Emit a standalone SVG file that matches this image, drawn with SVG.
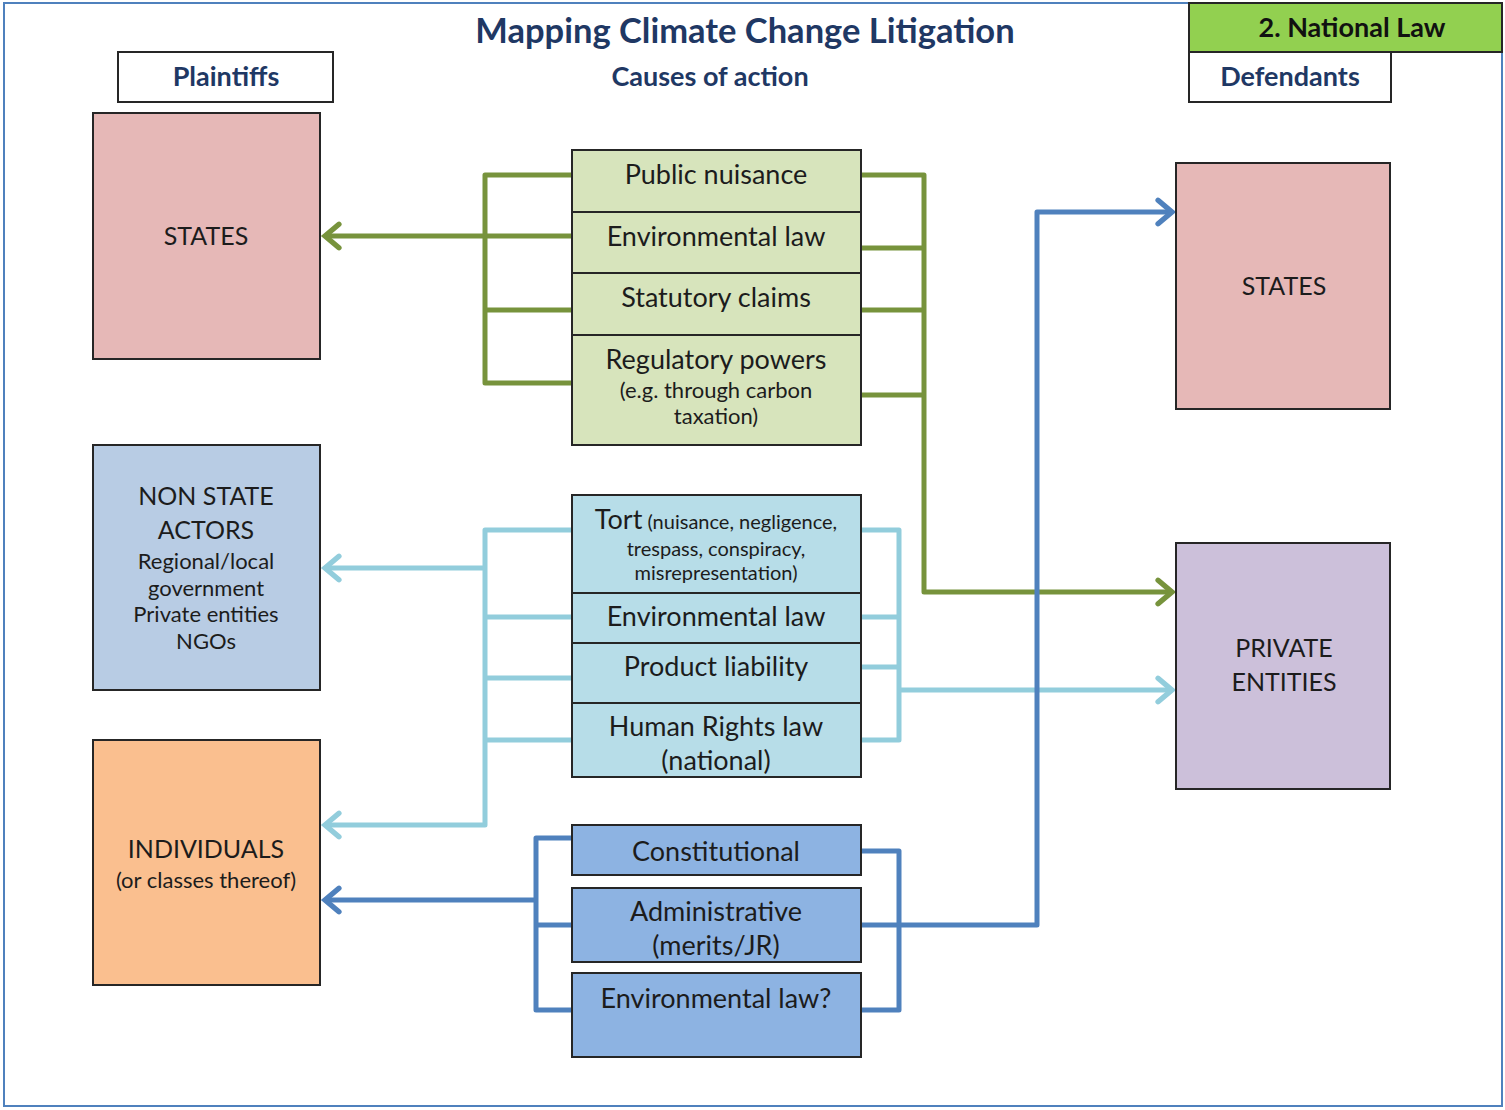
<svg xmlns="http://www.w3.org/2000/svg" width="1505" height="1110" viewBox="0 0 1505 1110">
<style>
text{font-family:Lato,"Open Sans","Liberation Sans",sans-serif;text-anchor:middle;fill:#1c1c1c}
.hdr{font-weight:bold;fill:#1f3864;font-size:27px}
.node{stroke:#262626;stroke-width:2}
.t{font-size:27px}
.c{font-size:25px}
.s{font-size:22px}
.xs{font-size:20px}
.g{stroke:#77933c;stroke-width:5;fill:none;stroke-linejoin:round}
.lb{stroke:#92cddc;stroke-width:5;fill:none;stroke-linejoin:round}
.b{stroke:#4f81bd;stroke-width:5;fill:none;stroke-linejoin:round}
</style>
<defs>
<marker id="ag" markerUnits="userSpaceOnUse" markerWidth="30" markerHeight="30" viewBox="-16 -14 20 28" refX="0" refY="0" orient="auto"><path d="M-13,-11 L0,0 L-13,11" fill="none" stroke="#77933c" stroke-width="5" stroke-linecap="round"/></marker>
<marker id="alb" markerUnits="userSpaceOnUse" markerWidth="30" markerHeight="30" viewBox="-16 -14 20 28" refX="0" refY="0" orient="auto"><path d="M-13,-11 L0,0 L-13,11" fill="none" stroke="#92cddc" stroke-width="5" stroke-linecap="round"/></marker>
<marker id="ab" markerUnits="userSpaceOnUse" markerWidth="30" markerHeight="30" viewBox="-16 -14 20 28" refX="0" refY="0" orient="auto"><path d="M-13,-11 L0,0 L-13,11" fill="none" stroke="#4f81bd" stroke-width="5" stroke-linecap="round"/></marker>
</defs>
<rect x="0" y="0" width="1505" height="1110" fill="#fff"/>
<rect x="4" y="3" width="1498" height="1103" fill="none" stroke="#4f81bd" stroke-width="2"/>

<g id="title"><text x="745" y="43" style="font-weight:bold;fill:#1f3864;font-size:34.5px">Mapping Climate Change Litigation</text></g>
<g id="causes"><text class="hdr" x="710" y="86">Causes of action</text></g>
<g id="plaintiffs"><rect x="118" y="52" width="215" height="50" fill="#fff" class="node"/><text class="hdr" x="226" y="86">Plaintiffs</text></g>
<g id="national-law"><rect x="1189" y="3" width="313" height="49" fill="#92d050" class="node"/><text x="1352" y="37" style="font-weight:bold;font-size:27px;fill:#111">2. National Law</text></g>
<g id="defendants"><rect x="1189" y="52" width="202" height="50" fill="#fff" class="node"/><text class="hdr" x="1290" y="86">Defendants</text></g>

<g id="connectors">
<path class="g" d="M572,175 H485 V383 H572 M572,310 H485"/>
<path class="g" d="M572,236 H325" marker-end="url(#ag)"/>
<path class="g" d="M861,175 H924 V592 H1172" marker-end="url(#ag)"/>
<path class="g" d="M861,248 H924 M861,310 H924 M861,395 H924"/>
<path class="lb" d="M572,530 H485 V825 H325" marker-end="url(#alb)"/>
<path class="lb" d="M572,617 H485 M572,678 H485 M572,740 H485"/>
<path class="lb" d="M485,568 H325" marker-end="url(#alb)"/>
<path class="lb" d="M861,530 H899 V740 H861 M861,617 H899 M861,667 H899"/>
<path class="lb" d="M899,690 H1172" marker-end="url(#alb)"/>
<path class="b" d="M572,838 H536 V1010 H572 M572,925 H536"/>
<path class="b" d="M536,900 H325" marker-end="url(#ab)"/>
<path class="b" d="M861,851 H899 V1010 H861"/>
<path class="b" d="M861,925 H1037 V212 H1172" marker-end="url(#ab)"/>
</g>

<g id="p-states"><rect x="93" y="113" width="227" height="246" fill="#e6b8b7" class="node"/><text class="c" x="206" y="245">STATES</text></g>
<g id="p-nonstate"><rect x="93" y="445" width="227" height="245" fill="#b8cce4" class="node"/>
<text class="c" x="206" y="505">NON STATE</text><text class="c" x="206" y="539">ACTORS</text>
<text class="s" x="206" y="569">Regional/local</text><text class="s" x="206" y="596">government</text><text class="s" x="206" y="622">Private entities</text><text class="s" x="206" y="649">NGOs</text></g>
<g id="p-individuals"><rect x="93" y="740" width="227" height="245" fill="#fabf8f" class="node"/><text class="c" x="206" y="858">INDIVIDUALS</text><text class="s" x="206" y="888">(or classes thereof)</text></g>

<g id="d-states"><rect x="1176" y="163" width="214" height="246" fill="#e6b8b7" class="node"/><text class="c" x="1284" y="295">STATES</text></g>
<g id="d-private"><rect x="1176" y="543" width="214" height="246" fill="#ccc0da" class="node"/><text class="c" x="1284" y="657">PRIVATE</text><text class="c" x="1284" y="691">ENTITIES</text></g>

<g id="green-causes">
<rect x="572" y="150" width="289" height="295" fill="#d7e4bc" class="node"/>
<path d="M572,212 H861 M572,273 H861 M572,335 H861" stroke="#262626" stroke-width="2"/>
<text class="t" x="716" y="184">Public nuisance</text>
<text class="t" x="716" y="246">Environmental law</text>
<text class="t" x="716" y="307">Statutory claims</text>
<text class="t" x="716" y="369">Regulatory powers</text>
<text class="s" x="716" y="398">(e.g. through carbon</text>
<text class="s" x="716" y="424">taxation)</text>
</g>
<g id="lightblue-causes">
<rect x="572" y="495" width="289" height="282" fill="#b7dde8" class="node"/>
<path d="M572,593 H861 M572,643 H861 M572,703 H861" stroke="#262626" stroke-width="2"/>
<text x="716" y="529"><tspan class="t">Tort</tspan><tspan class="xs"> (nuisance, negligence,</tspan></text>
<text class="xs" x="716" y="556">trespass, conspiracy,</text>
<text class="xs" x="716" y="580">misrepresentation)</text>
<text class="t" x="716" y="626">Environmental law</text>
<text class="t" x="716" y="676">Product liability</text>
<text class="t" x="716" y="736">Human Rights law</text>
<text class="t" x="716" y="770">(national)</text>
</g>
<g id="blue-constitutional"><rect x="572" y="825" width="289" height="50" fill="#8db3e2" class="node"/><text class="t" x="716" y="861">Constitutional</text></g>
<g id="blue-administrative"><rect x="572" y="888" width="289" height="74" fill="#8db3e2" class="node"/><text class="t" x="716" y="921">Administrative</text><text class="t" x="716" y="955">(merits/JR)</text></g>
<g id="blue-environmental"><rect x="572" y="973" width="289" height="84" fill="#8db3e2" class="node"/><text class="t" x="716" y="1008">Environmental law?</text></g>
</svg>
